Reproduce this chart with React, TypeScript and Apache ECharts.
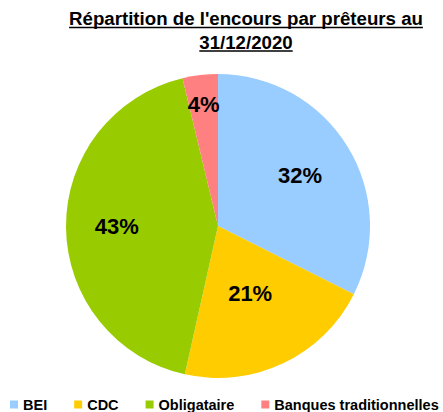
import React, { useEffect, useRef } from "react";
import * as echarts from "echarts";

const categories = ["BEI", "CDC", "Obligataire", "Banques traditionnelles"];
const values = [32.4, 21.1, 42.75, 3.75];
const titleLines = ["Répartition de l'encours par prêteurs au", "31/12/2020"];

const COLORS = ["#99CCFF", "#FFCC00", "#99CC00", "#FF8080"];
const LABEL_FACTORS = [1.22, 0.95, 1.28, 1.55];
const W = 443;
const H = 412;
const CX = 218;
const CY = 226;
const R = 152;
const FONT = "'Liberation Sans', Arial, sans-serif";
const TITLE_SIZE = 18.67;
const TITLE_X = 246;
const TITLE_Y = [18.7, 42];
const UNDERLINE_Y = [27.5, 51];

function measure(text: string, font: string): number {
  const c = document.createElement("canvas");
  const ctx = c.getContext("2d");
  if (!ctx) return text.length * 10;
  ctx.font = font;
  return ctx.measureText(text).width;
}

export default function App() {
  const ref = useRef<HTMLDivElement>(null);
  useEffect(() => {
    document.body.style.margin = "0";
    if (!ref.current) return;
    const chart = echarts.init(ref.current, null, { renderer: "svg" });
    const graphics: any[] = [];
    titleLines.forEach((t, i) => {
      const w = measure(t, `bold ${TITLE_SIZE}px 'Liberation Sans'`);
      graphics.push({
        type: "text",
        x: TITLE_X,
        y: TITLE_Y[i],
        style: {
          text: t,
          font: `bold ${TITLE_SIZE}px ${FONT}`,
          fill: "#000",
          align: "center",
          verticalAlign: "middle",
        },
      });
      graphics.push({
        type: "line",
        shape: { x1: TITLE_X - w / 2, y1: UNDERLINE_Y[i], x2: TITLE_X + w / 2, y2: UNDERLINE_Y[i] },
        style: { stroke: "#000", lineWidth: 1.6 },
      });
    });
    chart.setOption({
      animation: false,
      graphic: graphics,
      legend: {
        left: 10,
        top: 397,
        width: 443,
        padding: 0,
        orient: "horizontal",
        icon: "rect",
        itemWidth: 8,
        itemHeight: 8,
        itemGap: 27,
        selectedMode: false,
        data: categories,
        textStyle: { fontFamily: FONT, fontWeight: "bold", fontSize: 14.5, color: "#000" },
      },
      series: [
        {
          type: "pie",
          center: [CX, CY],
          radius: R,
          startAngle: 90,
          clockwise: true,
          silent: true,
          emphasis: { disabled: true },
          labelLine: { show: false },
          label: {
            show: true,
            position: "inside",
            fontFamily: FONT,
            fontWeight: "bold",
            fontSize: 22,
            color: "#000",
            formatter: (p: any) => Math.round(p.percent) + "%",
          },
          labelLayout: (p: any) => {
            const r = p.labelRect;
            const lx = r.x + r.width / 2;
            const ly = r.y + r.height / 2;
            const f = LABEL_FACTORS[p.dataIndex];
            return { x: CX + (lx - CX) * f, y: CY + (ly - CY) * f, align: "center", verticalAlign: "middle" };
          },
          data: categories.map((c, i) => ({
            name: c,
            value: values[i],
            itemStyle: { color: COLORS[i] },
          })),
        },
      ],
    });
    return () => chart.dispose();
  }, []);
  return <div ref={ref} style={{ width: W, height: H }} />;
}
